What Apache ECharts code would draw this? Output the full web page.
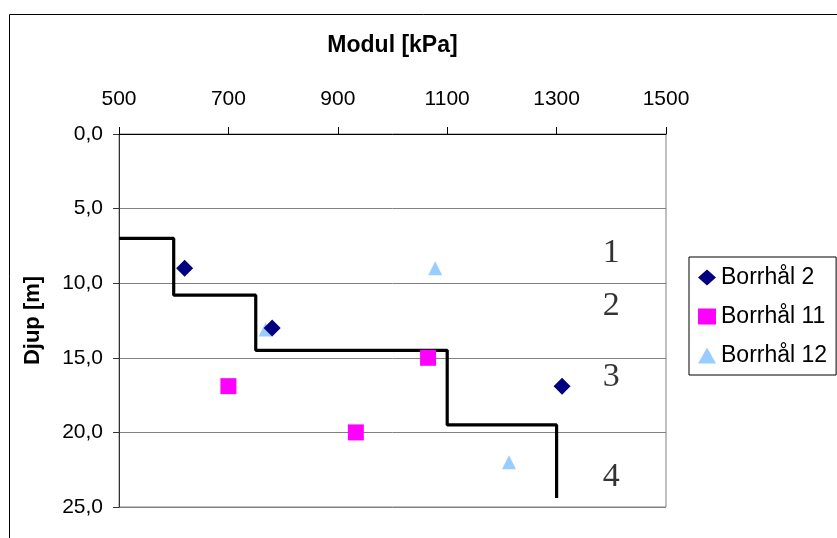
<!DOCTYPE html>
<html>
<head>
<meta charset="utf-8">
<script src="https://cdn.jsdelivr.net/npm/echarts@6/dist/echarts.min.js"></script>
<style>
html,body{margin:0;padding:0;background:#fff;}
#chart{width:837px;height:538px;}
</style>
</head>
<body>
<div id="chart"></div>
<script>
// Data
const xTicks = [500, 700, 900, 1100, 1300, 1500];
const yTicks = [0, 5, 10, 15, 20, 25];
const borrhal2 = [[620, 9.0], [780, 13.0], [1310, 16.9]];
const borrhal11 = [[700, 16.9], [933, 20.0], [1065, 15.0]];
const borrhal12 = [[768, 13.1], [1078, 9.0], [1213, 22.0]];
const layerLine = [[500, 7.0], [600, 7.0], [600, 10.8], [750, 10.8], [750, 14.5], [1100, 14.5], [1100, 19.5], [1300, 19.5], [1300, 24.4]];
const layerLabels = [[1400, 8.0, '1'], [1400, 11.5, '2'], [1400, 16.3, '3'], [1400, 23.0, '4']];

const chart = echarts.init(document.getElementById('chart'), null, {renderer: 'canvas'});
const sans = 'Liberation Sans, Arial, sans-serif';
chart.setOption({
  animation: false,
  backgroundColor: '#ffffff',
  graphic: [{
    type: 'rect', left: 7, top: 12, z: -1,
    shape: {width: 900, height: 600},
    style: {fill: 'none', stroke: '#000', lineWidth: 1}
  }],
  grid: {left: 119, right: 171, top: 134, bottom: 31, show: true, borderColor: '#808080', borderWidth: 1},
  legend: {
    orient: 'vertical', left: 689, top: 257,
    data: [
      {name: 'Borrhål 2', icon: 'diamond'},
      {name: 'Borrhål 11', icon: 'rect'},
      {name: 'Borrhål 12', icon: 'triangle'}
    ],
    itemWidth: 18, itemHeight: 16, itemGap: 16,
    borderColor: '#000', borderWidth: 1, padding: [9, 9, 8, 9],
    textStyle: {fontFamily: sans, fontSize: 23, color: '#000'}
  },
  xAxis: {
    type: 'value', position: 'top', min: xTicks[0], max: xTicks[xTicks.length - 1], interval: 200,
    name: 'Modul [kPa]', nameLocation: 'middle', nameGap: 77,
    nameTextStyle: {fontFamily: sans, fontSize: 23, fontWeight: 'bold', color: '#000'},
    axisLine: {lineStyle: {color: '#000', width: 1}},
    axisTick: {inside: false, length: 7, lineStyle: {color: '#000'}},
    axisLabel: {margin: 24, fontFamily: sans, fontSize: 21, color: '#000', formatter: v => String(v)},
    splitLine: {show: false}
  },
  yAxis: {
    type: 'value', inverse: true, min: yTicks[0], max: yTicks[yTicks.length - 1], interval: 5,
    name: 'Djup [m]', nameLocation: 'middle', nameGap: 75, nameRotate: 90,
    nameTextStyle: {fontFamily: sans, fontSize: 22, fontWeight: 'bold', color: '#000'},
    axisLine: {lineStyle: {color: '#333', width: 1}},
    axisTick: {inside: false, length: 6, lineStyle: {color: '#333'}},
    axisLabel: {margin: 16, fontFamily: sans, fontSize: 21, color: '#000',
      formatter: v => v.toFixed(1).replace('.', ',')},
    splitLine: {show: true, lineStyle: {color: '#808080', width: 1}}
  },
  series: [
    {type: 'line', name: 'layers', data: layerLine, showSymbol: false, symbol: 'none',
      lineStyle: {color: '#000', width: 3.2}, z: 2, silent: true},
    {type: 'scatter', name: 'Borrhål 2', data: borrhal2, symbol: 'diamond', symbolSize: 17,
      itemStyle: {color: '#000080', opacity: 1}, z: 4},
    {type: 'scatter', name: 'Borrhål 11', data: borrhal11, symbol: 'rect', symbolSize: 16,
      itemStyle: {color: '#FF00FF', opacity: 1}, z: 4},
    {type: 'scatter', name: 'Borrhål 12', data: borrhal12, symbol: 'triangle', symbolSize: 14,
      itemStyle: {color: '#99CCFF', opacity: 1}, z: 3},
    {type: 'scatter', name: 'labels', data: layerLabels, symbolSize: 1, silent: true,
      itemStyle: {color: 'transparent'},
      label: {show: true, position: 'inside', formatter: p => p.data[2],
        fontFamily: 'Liberation Serif, Times New Roman, serif', fontSize: 34, color: '#000'}}
  ]
});
</script>
</body>
</html>
